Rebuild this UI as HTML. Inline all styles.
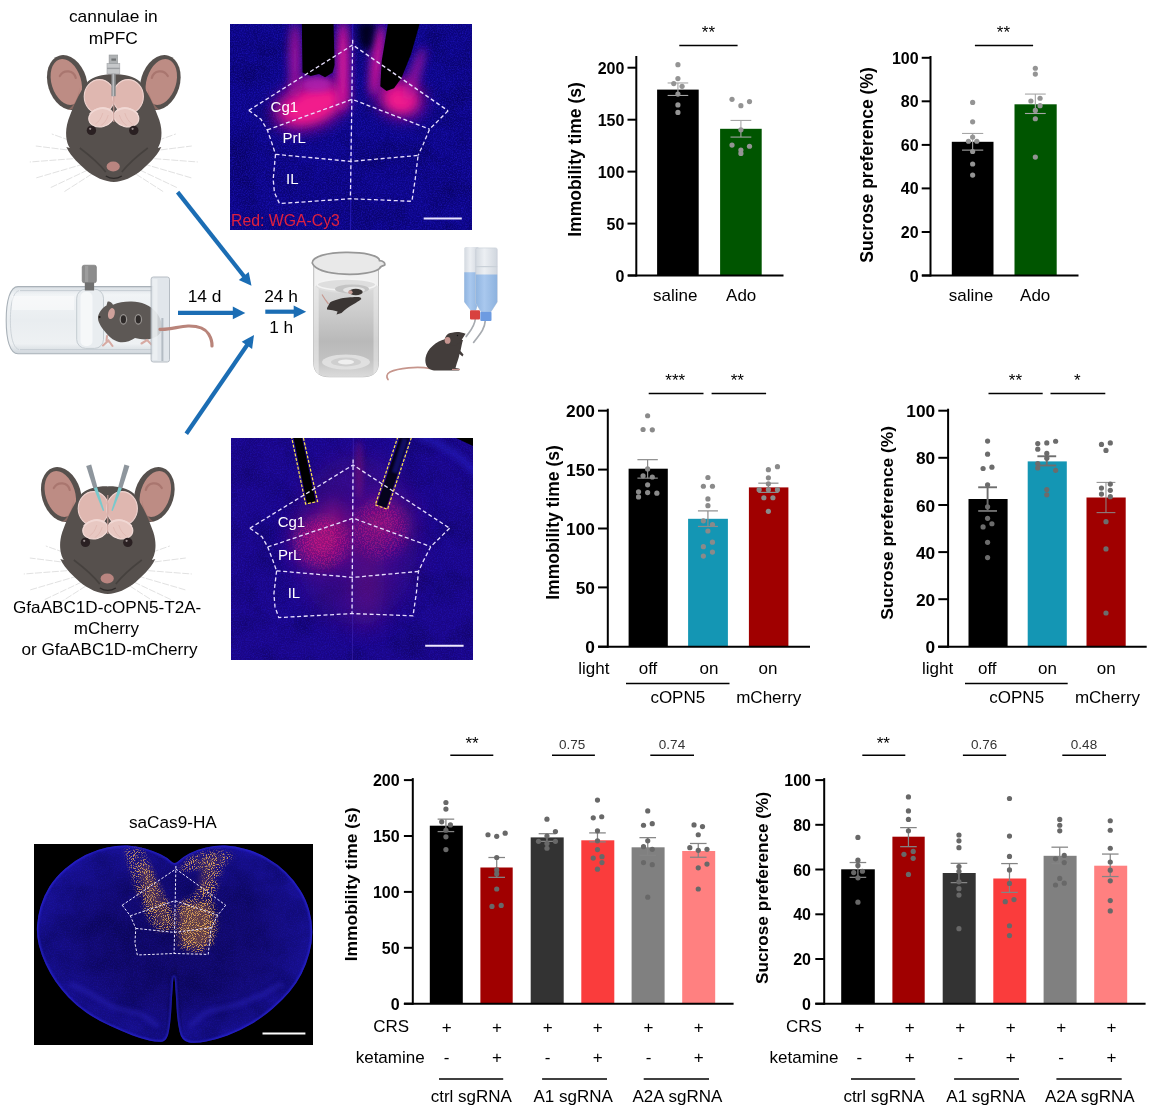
<!DOCTYPE html>
<html lang="en"><head><meta charset="utf-8"><title>Figure</title>
<style>html,body{margin:0;padding:0;background:#fff}body{width:1172px;height:1117px;overflow:hidden;font-family:"Liberation Sans",Arial,sans-serif}svg{display:block}</style>
</head><body>
<svg width="1172" height="1117" viewBox="0 0 1172 1117" font-family="Liberation Sans, Arial, sans-serif">
<defs>
<filter id="nzb" x="0" y="0" width="100%" height="100%" color-interpolation-filters="sRGB">
  <feTurbulence type="fractalNoise" baseFrequency="0.75" numOctaves="2" seed="7"/>
  <feColorMatrix type="matrix" values="0 0 0 0 0.18  0 0 0 0 0.12  0 0 0 0 0.95  0 0 2.2 0 -0.85"/>
</filter>
<filter id="nzd" x="0" y="0" width="100%" height="100%" color-interpolation-filters="sRGB">
  <feTurbulence type="fractalNoise" baseFrequency="0.035" numOctaves="3" seed="11"/>
  <feColorMatrix type="matrix" values="0 0 0 0 0.01  0 0 0 0 0  0 0 0 0 0.2  0 1.5 0 0 -0.6"/>
</filter>
<filter id="b2" x="-300%" y="-300%" width="700%" height="700%"><feGaussianBlur stdDeviation="2"/></filter>
<filter id="b3" x="-300%" y="-300%" width="700%" height="700%"><feGaussianBlur stdDeviation="3.2"/></filter>
<filter id="b5" x="-300%" y="-300%" width="700%" height="700%"><feGaussianBlur stdDeviation="5"/></filter>
<filter id="b8" x="-300%" y="-300%" width="700%" height="700%"><feGaussianBlur stdDeviation="8"/></filter>
<filter id="b12" x="-300%" y="-300%" width="700%" height="700%"><feGaussianBlur stdDeviation="12"/></filter>
<filter id="b05" x="-10%" y="-10%" width="120%" height="120%"><feGaussianBlur stdDeviation="0.5"/></filter>
<filter id="b1" x="-10%" y="-10%" width="120%" height="120%"><feGaussianBlur stdDeviation="0.8"/></filter>
<filter id="spk" x="-10%" y="-10%" width="120%" height="120%" color-interpolation-filters="sRGB">
  <feTurbulence type="fractalNoise" baseFrequency="0.95" numOctaves="2" seed="5" result="n"/>
  <feColorMatrix in="n" type="matrix" values="0 0 0 0 0.92  0 0 0 0 0.68  0 0 0 0 0.34  0 0 0 7 -3.55" result="m"/>
  <feGaussianBlur in="SourceGraphic" stdDeviation="2.2" result="b"/>
  <feComposite in="m" in2="b" operator="in"/>
</filter>
<filter id="spkm" x="-10%" y="-10%" width="120%" height="120%" color-interpolation-filters="sRGB">
  <feTurbulence type="fractalNoise" baseFrequency="0.7" numOctaves="2" seed="9" result="n"/>
  <feColorMatrix in="n" type="matrix" values="0 0 0 0 1  0 0 0 0 0.1  0 0 0 0 0.55  0 0 0 5 -2.2" result="m"/>
  <feGaussianBlur in="SourceGraphic" stdDeviation="5" result="b"/>
  <feComposite in="m" in2="b" operator="in"/>
</filter>
<clipPath id="c1"><rect x="230" y="24" width="242" height="206"/></clipPath>
<clipPath id="c2"><rect x="231" y="438" width="242" height="222"/></clipPath>
<clipPath id="c3"><rect x="34" y="844" width="279" height="201"/></clipPath>
<radialGradient id="brg" cx="0.5" cy="0.48" r="0.56">
  <stop offset="0" stop-color="#0f0860"/><stop offset="0.55" stop-color="#120a70"/><stop offset="0.9" stop-color="#17108e"/><stop offset="1" stop-color="#1c14a4"/>
</radialGradient>

<linearGradient id="tubeg" x1="0" y1="0" x2="0" y2="1">
  <stop offset="0" stop-color="#d9dfe4"/><stop offset="0.12" stop-color="#f1f4f6"/><stop offset="0.5" stop-color="#e9edf0"/>
  <stop offset="0.85" stop-color="#eef1f3"/><stop offset="1" stop-color="#cfd6dc"/>
</linearGradient>
<linearGradient id="watg" x1="0" y1="0" x2="0" y2="1">
  <stop offset="0" stop-color="#dadada"/><stop offset="0.25" stop-color="#cecece"/><stop offset="0.6" stop-color="#b9b9b9"/><stop offset="0.8" stop-color="#c2c2c2"/><stop offset="1" stop-color="#dcdcdc"/>
</linearGradient>
<linearGradient id="glassg" x1="0" y1="0" x2="1" y2="0">
  <stop offset="0" stop-color="#c9c9c9"/><stop offset="0.12" stop-color="#f4f4f4"/><stop offset="0.85" stop-color="#f0f0f0"/><stop offset="1" stop-color="#c4c4c4"/>
</linearGradient>
<linearGradient id="botg" x1="0" y1="0" x2="1" y2="0">
  <stop offset="0" stop-color="#8fb4e0"/><stop offset="0.4" stop-color="#a9c8ee"/><stop offset="1" stop-color="#8db2de"/>
</linearGradient>
<linearGradient id="bote" x1="0" y1="0" x2="1" y2="0">
  <stop offset="0" stop-color="#d3d9e0"/><stop offset="0.4" stop-color="#eceff3"/><stop offset="1" stop-color="#d0d6de"/>
</linearGradient>
</defs>
<rect width="1172" height="1117" fill="#fff"/>
<g id="art"><text x="113.30" y="22.40" font-size="17.35" text-anchor="middle" fill="#000">cannulae in</text>
<text x="113.30" y="43.90" font-size="17.35" text-anchor="middle" fill="#000">mPFC</text>
<g transform="translate(113.8 84.0)">
<g stroke="#d2d2d2" stroke-width="0.9" fill="none" opacity="0.75" stroke-dasharray="7 1.5"><path d="M28 62 L62 50 M-28 62 L-62 50"/><path d="M30 68 L78 62 M-30 68 L-78 62"/><path d="M32 74 L84 78 M-32 74 L-84 78"/><path d="M30 80 L78 94 M-30 80 L-78 94"/><path d="M26 86 L64 104 M-26 86 L-64 104"/><path d="M22 90 L50 108 M-22 90 L-50 108"/></g>
<g transform="scale(-1 1)">
<ellipse cx="46.5" cy="-1.5" rx="19.5" ry="28" transform="rotate(17 46.5 -1.5)" fill="#56504d"/>
<ellipse cx="47.5" cy="-2" rx="14.8" ry="23.5" transform="rotate(17 47.5 -2)" fill="#bd8c84"/>
<path d="M38 -6 C40 -14 50 -15 54 -8" fill="none" stroke="#a9766f" stroke-width="2.2" stroke-linecap="round"/>
<path d="M34 4 C36 14 40 22 46 26 L36 24 Z" fill="#a87870" opacity="0.6"/>
</g>
<g transform="scale(1 1)">
<ellipse cx="46.5" cy="-1.5" rx="19.5" ry="28" transform="rotate(17 46.5 -1.5)" fill="#56504d"/>
<ellipse cx="47.5" cy="-2" rx="14.8" ry="23.5" transform="rotate(17 47.5 -2)" fill="#bd8c84"/>
<path d="M38 -6 C40 -14 50 -15 54 -8" fill="none" stroke="#a9766f" stroke-width="2.2" stroke-linecap="round"/>
<path d="M34 4 C36 14 40 22 46 26 L36 24 Z" fill="#a87870" opacity="0.6"/>
</g>
<path d="M0 -9.6 C-10 -9.9 -20 -7.5 -26 -2.5 C-34 7 -40 21 -45.5 36 C-49.5 48 -47.5 59 -44 64 L-47.5 63 C-42 74 -34 80 -28 86 C-20 93 -8 98 0 98 C8 98 20 93 28 86 C34 80 42 74 47.5 63 L44 64 C47.5 59 49.5 48 45.5 36 C40 21 34 7 26 -2.5 C20 -7.5 10 -9.9 0 -9.6 Z" fill="#56504d"/>
<path d="M-34 64 C-26 70 -16 78 -8 88 M34 64 C26 70 16 78 8 88" stroke="#3f3a38" stroke-width="1.6" fill="none" opacity="0.7"/>
<path d="M-8 92 C-3 95 3 95 8 92" stroke="#2e2a29" stroke-width="1.4" fill="none"/>
<g transform="scale(-1 1)">
<ellipse cx="14.3" cy="12.6" rx="15.3" ry="17" fill="#dfb7b0" stroke="#efd3cf" stroke-width="1.1"/>
</g>
<g transform="scale(1 1)">
<ellipse cx="14.3" cy="12.6" rx="15.3" ry="17" fill="#dfb7b0" stroke="#efd3cf" stroke-width="1.1"/>
</g>
<g transform="scale(-1 1)">
<ellipse cx="12.6" cy="33.4" rx="12.6" ry="9.4" transform="rotate(14 12.6 33.4)" fill="#e8c8c2" stroke="#f3dcd8" stroke-width="1.1"/>
<path d="M3 27 C9 22 18 24 24 30" stroke="#f1d8d4" stroke-width="1.6" fill="none"/>
<path d="M5.5 31 C7 36 10 40 13 41.5 M11 29 C12.5 34 15 38 18.5 40" stroke="#dcb2ac" stroke-width="0.8" fill="none" opacity="0.8"/>
</g>
<g transform="scale(1 1)">
<ellipse cx="12.6" cy="33.4" rx="12.6" ry="9.4" transform="rotate(14 12.6 33.4)" fill="#e8c8c2" stroke="#f3dcd8" stroke-width="1.1"/>
<path d="M3 27 C9 22 18 24 24 30" stroke="#f1d8d4" stroke-width="1.6" fill="none"/>
<path d="M5.5 31 C7 36 10 40 13 41.5 M11 29 C12.5 34 15 38 18.5 40" stroke="#dcb2ac" stroke-width="0.8" fill="none" opacity="0.8"/>
</g>
<path d="M0 -1 L0 38" stroke="#cfa39d" stroke-width="1"/>
<circle cx="-22.40" cy="46.40" r="4.70" fill="#2a2022"/>
<circle cx="-23.60" cy="44.80" r="1.10" fill="#9a8f8f"/>
<circle cx="20.00" cy="46.40" r="4.70" fill="#2a2022"/>
<circle cx="18.80" cy="44.80" r="1.10" fill="#9a8f8f"/>
<ellipse cx="-0.6" cy="82.5" rx="6.6" ry="5" fill="#b98580"/>
<rect x="-2.40" y="-11.00" width="4.30" height="23.20" fill="#8b8d8f"/>
<rect x="-1.20" y="-11.00" width="1.30" height="23.20" fill="#c2c4c6"/>
<rect x="-6.80" y="-20.60" width="12.80" height="10.40" fill="#c6c8ca" stroke="#a2a5a8" stroke-width="0.6"/>
<rect x="-6.80" y="-16.30" width="12.80" height="1.40" fill="#9b9ea1"/>
<rect x="-4.70" y="-29.00" width="8.60" height="8.60" fill="#aeb1b3" stroke="#96999c" stroke-width="0.6"/>
<rect x="-2.40" y="-25.50" width="4.60" height="2.20" fill="#6f7274"/>
</g>
<g transform="translate(107.8 496.0)">
<g stroke="#d2d2d2" stroke-width="0.9" fill="none" opacity="0.75" stroke-dasharray="7 1.5"><path d="M28 62 L62 50 M-28 62 L-62 50"/><path d="M30 68 L78 62 M-30 68 L-78 62"/><path d="M32 74 L84 78 M-32 74 L-84 78"/><path d="M30 80 L78 94 M-30 80 L-78 94"/><path d="M26 86 L64 104 M-26 86 L-64 104"/><path d="M22 90 L50 108 M-22 90 L-50 108"/></g>
<g transform="scale(-1 1)">
<ellipse cx="46.5" cy="-1.5" rx="19.5" ry="28" transform="rotate(17 46.5 -1.5)" fill="#56504d"/>
<ellipse cx="47.5" cy="-2" rx="14.8" ry="23.5" transform="rotate(17 47.5 -2)" fill="#bd8c84"/>
<path d="M38 -6 C40 -14 50 -15 54 -8" fill="none" stroke="#a9766f" stroke-width="2.2" stroke-linecap="round"/>
<path d="M34 4 C36 14 40 22 46 26 L36 24 Z" fill="#a87870" opacity="0.6"/>
</g>
<g transform="scale(1 1)">
<ellipse cx="46.5" cy="-1.5" rx="19.5" ry="28" transform="rotate(17 46.5 -1.5)" fill="#56504d"/>
<ellipse cx="47.5" cy="-2" rx="14.8" ry="23.5" transform="rotate(17 47.5 -2)" fill="#bd8c84"/>
<path d="M38 -6 C40 -14 50 -15 54 -8" fill="none" stroke="#a9766f" stroke-width="2.2" stroke-linecap="round"/>
<path d="M34 4 C36 14 40 22 46 26 L36 24 Z" fill="#a87870" opacity="0.6"/>
</g>
<path d="M0 -9.6 C-10 -9.9 -20 -7.5 -26 -2.5 C-34 7 -40 21 -45.5 36 C-49.5 48 -47.5 59 -44 64 L-47.5 63 C-42 74 -34 80 -28 86 C-20 93 -8 98 0 98 C8 98 20 93 28 86 C34 80 42 74 47.5 63 L44 64 C47.5 59 49.5 48 45.5 36 C40 21 34 7 26 -2.5 C20 -7.5 10 -9.9 0 -9.6 Z" fill="#56504d"/>
<path d="M-34 64 C-26 70 -16 78 -8 88 M34 64 C26 70 16 78 8 88" stroke="#3f3a38" stroke-width="1.6" fill="none" opacity="0.7"/>
<path d="M-8 92 C-3 95 3 95 8 92" stroke="#2e2a29" stroke-width="1.4" fill="none"/>
<g transform="scale(-1 1)">
<ellipse cx="14.3" cy="12.6" rx="15.3" ry="17" fill="#dfb7b0" stroke="#efd3cf" stroke-width="1.1"/>
</g>
<g transform="scale(1 1)">
<ellipse cx="14.3" cy="12.6" rx="15.3" ry="17" fill="#dfb7b0" stroke="#efd3cf" stroke-width="1.1"/>
</g>
<g transform="scale(-1 1)">
<ellipse cx="12.6" cy="33.4" rx="12.6" ry="9.4" transform="rotate(14 12.6 33.4)" fill="#e8c8c2" stroke="#f3dcd8" stroke-width="1.1"/>
<path d="M3 27 C9 22 18 24 24 30" stroke="#f1d8d4" stroke-width="1.6" fill="none"/>
<path d="M5.5 31 C7 36 10 40 13 41.5 M11 29 C12.5 34 15 38 18.5 40" stroke="#dcb2ac" stroke-width="0.8" fill="none" opacity="0.8"/>
</g>
<g transform="scale(1 1)">
<ellipse cx="12.6" cy="33.4" rx="12.6" ry="9.4" transform="rotate(14 12.6 33.4)" fill="#e8c8c2" stroke="#f3dcd8" stroke-width="1.1"/>
<path d="M3 27 C9 22 18 24 24 30" stroke="#f1d8d4" stroke-width="1.6" fill="none"/>
<path d="M5.5 31 C7 36 10 40 13 41.5 M11 29 C12.5 34 15 38 18.5 40" stroke="#dcb2ac" stroke-width="0.8" fill="none" opacity="0.8"/>
</g>
<path d="M0 -1 L0 38" stroke="#cfa39d" stroke-width="1"/>
<circle cx="-22.40" cy="46.40" r="4.70" fill="#2a2022"/>
<circle cx="-23.60" cy="44.80" r="1.10" fill="#9a8f8f"/>
<circle cx="20.00" cy="46.40" r="4.70" fill="#2a2022"/>
<circle cx="18.80" cy="44.80" r="1.10" fill="#9a8f8f"/>
<ellipse cx="-0.6" cy="82.5" rx="6.6" ry="5" fill="#b98580"/>
<g transform="scale(-1 1)">
<polygon points="16.6,-31.5 21.6,-30 14.4,-7.6 10.4,-9" fill="#8e969d"/>
<polygon points="10.8,-9 14,-7.8 4.9,15 3.6,14.4" fill="#79c9cc"/>
</g>
<g transform="scale(1 1)">
<polygon points="16.6,-31.5 21.6,-30 14.4,-7.6 10.4,-9" fill="#8e969d"/>
<polygon points="10.8,-9 14,-7.8 4.9,15 3.6,14.4" fill="#79c9cc"/>
</g>
</g>
<text x="107.20" y="612.50" font-size="17.12" text-anchor="middle" fill="#000">GfaABC1D-cOPN5-T2A-</text>
<text x="106.40" y="634.10" font-size="17.00" text-anchor="middle" fill="#000">mCherry</text>
<text x="109.50" y="654.80" font-size="17.15" text-anchor="middle" fill="#000">or GfaABC1D-mCherry</text>
<path d="M18 286.6 L153 286.6 L153 353.8 L18 353.8 C10 353.8 6.2 340 6.2 320.2 C6.2 301 10 286.6 18 286.6 Z" fill="url(#tubeg)" stroke="#a9b1b8" stroke-width="1.1"/>
<path d="M20 290.6 L152 290.6 M20 349.6 L152 349.6" stroke="#c3cad0" stroke-width="0.9" fill="none"/>
<path d="M19 290.6 C13 292 10.4 304 10.4 320.2 C10.4 336 13 348 19 349.6" fill="none" stroke="#c9d0d6" stroke-width="0.9"/>
<rect x="12.00" y="296.00" width="62.00" height="14.00" fill="#ffffff" opacity="0.45"/>
<rect x="76.70" y="289.20" width="26.80" height="59.20" fill="#e9edf0" rx="9" stroke="#c0c7cd" stroke-width="0.9"/>
<rect x="80.50" y="292.00" width="12.00" height="54.00" fill="#f6f8f9" rx="5"/>
<rect x="84.80" y="281.50" width="9.30" height="9.00" fill="#6f6f6f"/>
<rect x="82.20" y="265.20" width="14.20" height="17.60" fill="#8c8c8c" rx="2" stroke="#747474" stroke-width="0.6"/>
<rect x="85.00" y="266.00" width="3.20" height="16.00" fill="#a4a4a4" opacity="0.7"/>
<path d="M98 316.8 C99 312 103 307 106.5 305.5 L107.5 301.8 C109.5 301 112 302.5 113 304.8 C118 302.5 124 301.6 130 301.5 C140 301 150 305 156 312 C160 317 162.5 323 161.8 329 C161 334 157 337 152 338.5 C146 340.5 140 339 135 338 C130 341.5 124 343 119 342 C113 340.5 108 336 104.5 331 C101 327 97.5 321.5 98 316.8 Z" fill="#5d5855"/>
<ellipse cx="111.4" cy="313.6" rx="3.3" ry="5.6" fill="#cfa19b" transform="rotate(14 111.4 313.6)"/>
<circle cx="99.60" cy="317.00" r="1.00" fill="#1e1a1a"/>
<path d="M103 345.5 L108.5 340.5 L112.5 346 M106.5 341 L107 336 M141.5 343.5 L147 340 L151.5 344.5" stroke="#d7aaa3" stroke-width="2.1" fill="none" stroke-linecap="round"/>
<ellipse cx="123.4" cy="319.4" rx="3.2" ry="4.7" fill="#2f2b2a" stroke="#9a9693" stroke-width="1.2"/>
<ellipse cx="138.3" cy="319.4" rx="3.2" ry="4.7" fill="#2f2b2a" stroke="#9a9693" stroke-width="1.2"/>
<rect x="151.10" y="277.00" width="18.40" height="85.00" fill="#dde3e8" rx="2.2" stroke="#aab2ba" stroke-width="1" opacity="0.86"/>
<rect x="161.40" y="318.00" width="2.00" height="43.00" fill="#b4bcc4"/>
<rect x="152.50" y="279.00" width="5.00" height="81.00" fill="#f2f5f7" opacity="0.6"/>
<path d="M160 329.3 C170 330 179 326.2 188 326 C197 325.8 205 328 208.6 334 C211 338 212.2 342 212 346" fill="none" stroke="#b9847a" stroke-width="3.2" stroke-linecap="round"/>
<text x="204.60" y="302.10" font-size="17.35" text-anchor="middle" fill="#000">14 d</text>
<text x="281.10" y="302.10" font-size="17.35" text-anchor="middle" fill="#000">24 h</text>
<text x="281.20" y="332.50" font-size="17.35" text-anchor="middle" fill="#000">1 h</text>
<line x1="177.60" y1="192.10" x2="244.38" y2="276.77" stroke="#1b6db4" stroke-width="4.20"/><polygon points="251.5,285.8 238.8,279.9 248.7,272.1" fill="#1b6db4"/>
<line x1="178.00" y1="312.90" x2="233.80" y2="312.90" stroke="#1b6db4" stroke-width="4.20"/><polygon points="245.3,312.9 232.8,319.2 232.8,306.6" fill="#1b6db4"/>
<line x1="186.30" y1="433.80" x2="247.50" y2="344.49" stroke="#1b6db4" stroke-width="4.20"/><polygon points="254.0,335.0 252.1,348.9 241.7,341.8" fill="#1b6db4"/>
<line x1="265.30" y1="311.70" x2="294.70" y2="311.70" stroke="#1b6db4" stroke-width="4.20"/><polygon points="306.2,311.7 293.7,318.0 293.7,305.4" fill="#1b6db4"/>
<path d="M313.7 263.5 L313.7 362.8 C313.7 372.8 319.7 376.8 329.7 376.8 L362.5 376.8 C372.5 376.8 378.5 372.8 378.5 362.8 L378.5 263.5 Z" fill="#f1f1f1" stroke="#b5b5b5" stroke-width="0.9"/>
<clipPath id="bkc"><path d="M313.7 263.5 L313.7 362.8 C313.7 372.8 319.7 376.8 329.7 376.8 L362.5 376.8 C372.5 376.8 378.5 372.8 378.5 362.8 L378.5 263.5 Z"/></clipPath>
<g clip-path="url(#bkc)">
<rect x="313.70" y="286.00" width="64.80" height="92.00" fill="url(#watg)"/>
<rect x="313.70" y="286.00" width="5.00" height="92.00" fill="#f2f2f2" opacity="0.55"/>
<rect x="373.50" y="286.00" width="5.00" height="92.00" fill="#f2f2f2" opacity="0.45"/>
<ellipse cx="346" cy="362" rx="24" ry="7.5" fill="#e2e2e2" opacity="0.9"/>
<ellipse cx="346" cy="362" rx="15" ry="4.4" fill="#cfcfcf"/>
<ellipse cx="346" cy="362" rx="8" ry="2.4" fill="#efefef"/>
</g>
<ellipse cx="346.5" cy="286" rx="30.5" ry="7" fill="#dedede"/>
<ellipse cx="346.5" cy="284.6" rx="29.5" ry="5.6" fill="none" stroke="#f3f3f3" stroke-width="1.6"/>
<ellipse cx="352" cy="289" rx="17" ry="4.6" fill="#c4c4c4"/>
<ellipse cx="354" cy="290" rx="11" ry="3.2" fill="#e4e4e4"/>
<path d="M322 294.5 C324 298 326 301 328.5 304" fill="none" stroke="#c79a92" stroke-width="1.2"/>
<path d="M327 308 L330 302.6 C334 300 342 298 348 297.6 C353 297.2 358 296.6 360.5 297.6 L361.4 299 C359 301 356 302.8 353 304.4 C349 306.6 345 309 341.5 313 L336.5 314.6 L337.6 311.4 L332.6 310.2 L327 309.6 Z" fill="#3a3533"/>
<ellipse cx="355.8" cy="292" rx="6.9" ry="3.2" fill="#3a3533"/>
<ellipse cx="350.4" cy="292.2" rx="2.2" ry="1.9" fill="#c9a099"/>
<path d="M312.2 263 C312.2 249 379 249.5 379.6 260.6 C383 260.6 385.6 263 384.6 265.2 C382 265.8 380.2 266.8 379.4 268.6 C370 276.6 318 277.4 312.2 263 Z" fill="#e9e9e9" stroke="#979797" stroke-width="1.7"/>
<path d="M464.3 248.5 Q464.3 246.9 466 246.9 L477 246.9 Q478.9 246.9 478.9 248.5 L478.9 300 L476 310.2 L470.5 310.2 L464.3 302 Z" fill="url(#bote)"/>
<path d="M464.3 272.3 L478.9 272.3 L478.9 300 L476 310.2 L470.5 310.2 L464.3 302 Z" fill="url(#botg)"/>
<path d="M475.7 249.5 Q475.7 247.9 477.5 247.9 L495.4 247.9 Q497.2 247.9 497.2 249.5 L497.2 302 L491 311.7 L481 311.7 L475.7 303 Z" fill="url(#bote)" stroke="#c3cad3" stroke-width="0.6"/>
<path d="M475.7 274.4 L497.2 274.4 L497.2 302 L491 311.7 L481 311.7 L475.7 303 Z" fill="url(#botg)"/>
<rect x="475.70" y="266.00" width="21.50" height="1.20" fill="#c9d0d8"/>
<path d="M475.3 319 C474.5 327 470 331 466.2 336.6" fill="none" stroke="#a7abb0" stroke-width="1.7" stroke-linecap="round"/>
<path d="M485.3 320.5 C484.5 331 478 336 473.6 342.4" fill="none" stroke="#a7abb0" stroke-width="1.7" stroke-linecap="round"/>
<rect x="470.00" y="310.20" width="10.00" height="9.30" fill="#d8413f" rx="1"/>
<rect x="480.30" y="311.70" width="11.20" height="9.30" fill="#6d9be1" rx="1"/>
<path d="M430 368.5 C418 366 398 368 390 372 C386 374 386.5 377.5 388 379.5" fill="none" stroke="#c6958c" stroke-width="1.7" stroke-linecap="round"/>
<path d="M446 339 C436 341 427 349 425.5 358 C424.5 365 428 370 434 370.5 L458 370.5 C460 370.5 460.5 369 458.5 368.5 L455.5 368 C457 362 459 358 459.5 354 L462.5 356.5 L463.5 354.5 L460.5 351 C461.5 346 462 343 463 340 Z" fill="#433d3b"/>
<path d="M444.5 343 C444 337 447 333 452 332.8 C456 331.5 461 332 465.6 333.8 L462.5 338.5 C461 342 458 345 453 346 Z" fill="#433d3b"/>
<ellipse cx="447.6" cy="340.4" rx="2.9" ry="3.4" fill="#c69590"/>
<circle cx="457.50" cy="335.50" r="0.70" fill="#111"/>
<path d="M452 369.5 L460 369.5" stroke="#c69590" stroke-width="1.2"/></g>
<g id="m1"><g clip-path="url(#c1)">
<rect x="230.00" y="24.00" width="242.00" height="206.00" fill="#0c0582"/>
<rect x="230.00" y="24.00" width="242.00" height="206.00" fill="#000" filter="url(#nzd)" opacity="0.5"/>
<rect x="230.00" y="24.00" width="242.00" height="206.00" fill="#000" filter="url(#nzb)" opacity="0.4"/>
<ellipse cx="310" cy="105" rx="37" ry="22" transform="rotate(-20 310 105)" fill="#d8108c" filter="url(#b8)"/>
<ellipse cx="312" cy="106" rx="26" ry="13" transform="rotate(-20 312 106)" fill="#f21a8c" filter="url(#b5)"/>
<ellipse cx="316" cy="84" rx="16" ry="8" fill="#b020b0" filter="url(#b3)" opacity="0.8"/>
<ellipse cx="295" cy="60" rx="5.5" ry="38" fill="#b018a0" filter="url(#b5)" opacity="0.95"/>
<ellipse cx="343" cy="66" rx="6.5" ry="46" fill="#dc189a" filter="url(#b5)"/>
<ellipse cx="400" cy="98" rx="23" ry="18" transform="rotate(25 400 98)" fill="#d8108c" filter="url(#b8)"/>
<ellipse cx="401" cy="100" rx="13" ry="10" fill="#f21a8c" filter="url(#b5)"/>
<ellipse cx="377" cy="60" rx="5.5" ry="36" transform="rotate(7 377 60)" fill="#dc189a" filter="url(#b5)"/>
<ellipse cx="415" cy="74" rx="4.5" ry="28" transform="rotate(18 415 74)" fill="#b018a0" filter="url(#b5)" opacity="0.9"/>
<polygon points="358.5,22.7 375.6,22.7 371.5,45.9 364.6,51.4 359.2,40.5" fill="#03011c" filter="url(#b3)" opacity="0.95"/>
<polygon points="301.8,22.7 333.5,22.7 334.6,65.1 332.6,72.6 325.1,77.3 318.9,73.9 310.7,76.0 302.5,72.6" fill="#000" filter="url(#b05)"/>
<polygon points="388.1,22.7 419.9,22.7 411.1,54.1 401.5,78.0 394.0,88.3 386.5,91.0 380.3,86.2 381.7,61.0" fill="#000" filter="url(#b05)"/>
<line x1="352.66" y1="24.00" x2="350.44" y2="230.00" stroke="#2e22c8" stroke-width="1.20" opacity="0.6"/>
<path d="M248.8 110.4 L352.7 44.9 L448.1 110.8" fill="none" stroke="#e8e0ff" stroke-width="1.30" stroke-dasharray="4 2.6"/>
<path d="M267.3 129.9 L352.2 99.3 L429.6 129.2" fill="none" stroke="#e8e0ff" stroke-width="1.30" stroke-dasharray="4 2.6"/>
<path d="M275.5 154.3 L350.9 161.4 L418.1 155.4" fill="none" stroke="#e8e0ff" stroke-width="1.30" stroke-dasharray="4 2.6"/>
<path d="M352.7 39.8 L350.4 198.7" fill="none" stroke="#e8e0ff" stroke-width="1.30" stroke-dasharray="4 2.6"/>
<path d="M248.8 110.4 L261.0 119.3 L267.3 129.9 L272.1 143.7 L275.5 154.3" fill="none" stroke="#e8e0ff" stroke-width="1.30" stroke-dasharray="4 2.6"/>
<path d="M448.1 110.8 L429.6 129.2 L423.0 144.8 L418.1 155.4" fill="none" stroke="#e8e0ff" stroke-width="1.30" stroke-dasharray="4 2.6"/>
<path d="M275.5 154.3 L273.2 179.2 L274.4 192.5 L279.5 203.6 L350.4 198.7 L411.9 201.3 L415.2 179.2 L418.1 155.4" fill="none" stroke="#e8e0ff" stroke-width="1.30" stroke-dasharray="4 2.6"/>
<text x="270.58" y="112.17" font-size="15.00" text-anchor="start" fill="#fff">Cg1</text>
<text x="282.56" y="143.23" font-size="15.00" text-anchor="start" fill="#fff">PrL</text>
<text x="286.11" y="184.04" font-size="15.00" text-anchor="start" fill="#fff">IL</text>
<text x="231.00" y="225.80" font-size="15.80" text-anchor="start" fill="#e0203f">Red: WGA-Cy3</text>
<line x1="423.70" y1="218.40" x2="461.80" y2="218.40" stroke="#e8e4ff" stroke-width="2.00"/>
</g></g>
<g id="m2"><g clip-path="url(#c2)">
<rect x="231.00" y="438.00" width="242.00" height="222.00" fill="#1a0686"/>
<rect x="231.00" y="438.00" width="242.00" height="222.00" fill="#000" filter="url(#nzd)" opacity="0.4"/>
<rect x="231.00" y="438.00" width="242.00" height="222.00" fill="#000" filter="url(#nzb)" opacity="0.3"/>
<ellipse cx="356" cy="540" rx="62" ry="85" fill="#5a0a84" filter="url(#b12)" opacity="0.4"/>
<path d="M418 436 C440 442 462 456 478 476" fill="none" stroke="#2a22d0" stroke-width="7" filter="url(#b3)" opacity="0.55"/>
<ellipse cx="322" cy="541" rx="24" ry="22" fill="#c01878" filter="url(#b12)" opacity="0.8"/>
<ellipse cx="334" cy="520" rx="12" ry="20" fill="#a8187c" filter="url(#b8)" opacity="0.45"/>
<ellipse cx="382" cy="523" rx="24" ry="20" fill="#b01878" filter="url(#b12)" opacity="0.65"/>
<ellipse cx="367" cy="570" rx="10" ry="60" fill="#8a1478" filter="url(#b12)" opacity="0.5"/>
<ellipse cx="359" cy="470" rx="3" ry="30" fill="#b01868" filter="url(#b3)" opacity="0.45"/>
<ellipse cx="322" cy="543" rx="28" ry="25" fill="#ff4fa0" filter="url(#spkm)" opacity="0.38"/>
<ellipse cx="380" cy="530" rx="28" ry="30" fill="#ff4fa0" filter="url(#spkm)" opacity="0.3"/>
<polygon points="456,438 473,438 473,446" fill="#000" filter="url(#b05)"/>
<polygon points="293.2,436.1 301.6,436.1 315.8,501.5 307.0,503.5" fill="#000"/>
<polygon points="400.6,435.0 409.7,437.2 386.4,508.0 377.1,504.4" fill="#05031c"/>
<polygon points="402.4,438.3 408.1,439.6 397.5,473.8 391.9,472.0" fill="#1a12a0" opacity="0.55" filter="url(#b1)"/>
<polygon points="291.4,436.1 303.0,436.1 317.6,501.5 305.6,504.0" fill="none" stroke="#ffe84a" stroke-width="1.2" stroke-dasharray="3 1.5"/>
<polygon points="398.8,433.9 411.5,437.2 387.5,509.3 375.3,504.9" fill="none" stroke="#ffe84a" stroke-width="1.2" stroke-dasharray="3 1.5"/>
<line x1="353.33" y1="438.00" x2="352.44" y2="660.00" stroke="#4a30c8" stroke-width="1.10" opacity="0.4"/>
<path d="M249.9 528.2 L353.1 464.9 L449.6 528.2" fill="none" stroke="#e8e0ff" stroke-width="1.30" stroke-dasharray="4 2.6"/>
<path d="M267.7 547.0 L353.1 518.2 L430.8 546.6" fill="none" stroke="#e8e0ff" stroke-width="1.30" stroke-dasharray="4 2.6"/>
<path d="M276.6 570.8 L353.1 577.4 L418.5 571.4" fill="none" stroke="#e8e0ff" stroke-width="1.30" stroke-dasharray="4 2.6"/>
<path d="M353.1 459.4 L352.0 613.6" fill="none" stroke="#e8e0ff" stroke-width="1.30" stroke-dasharray="4 2.6"/>
<path d="M249.9 528.2 L262.2 537.0 L267.7 547.0 L272.8 560.3 L276.6 570.8" fill="none" stroke="#e8e0ff" stroke-width="1.30" stroke-dasharray="4 2.6"/>
<path d="M449.6 528.2 L430.8 546.6 L423.7 560.3 L418.5 571.4" fill="none" stroke="#e8e0ff" stroke-width="1.30" stroke-dasharray="4 2.6"/>
<path d="M276.6 570.8 L273.9 593.6 L275.0 606.9 L278.8 617.6 L352.0 613.6 L413.0 615.8 L416.3 593.6 L418.5 571.4" fill="none" stroke="#e8e0ff" stroke-width="1.30" stroke-dasharray="4 2.6"/>
<text x="277.68" y="527.49" font-size="15.00" text-anchor="start" fill="#fff">Cg1</text>
<text x="278.12" y="560.32" font-size="15.00" text-anchor="start" fill="#fff">PrL</text>
<text x="287.66" y="598.48" font-size="15.00" text-anchor="start" fill="#fff">IL</text>
<line x1="425.20" y1="645.70" x2="463.60" y2="645.70" stroke="#efeaff" stroke-width="2.00"/>
</g></g>
<g id="m3"><text x="172.90" y="828.30" font-size="17.20" text-anchor="middle" fill="#000">saCas9-HA</text>
<g clip-path="url(#c3)">
<rect x="34.00" y="844.00" width="279.00" height="201.00" fill="#000"/>
<clipPath id="c3b"><path d="M171.4 861.4 Q167.8 857.9 160.6 854.3 Q153.5 850.8 145.1 848.4 Q136.7 846.0 127.2 845.6 Q117.6 845.3 106.9 847.4 Q96.1 849.6 85.4 854.9 Q74.6 860.3 65.1 868.7 Q55.5 877.0 49.5 886.6 Q43.6 896.1 40.6 906.3 Q37.6 916.5 37.0 926.0 Q36.4 935.6 38.8 945.1 Q41.2 954.7 45.7 964.2 Q50.2 973.8 55.5 981.6 Q60.8 989.3 68.3 997.3 Q75.8 1005.3 86.2 1012.5 Q96.6 1019.7 109.5 1025.6 Q122.4 1031.6 132.0 1035.2 Q141.5 1038.8 150.1 1040.7 Q158.7 1042.6 163.0 1041.4 Q167.3 1040.2 169.0 1030.9 Q170.7 1021.6 171.4 1008.4 Q172.1 995.3 173.0 982.7 Q174.0 970.2 175.0 982.7 Q175.9 995.3 176.6 1008.4 Q177.3 1021.6 179.5 1031.4 Q181.6 1041.2 189.1 1042.4 Q196.5 1043.5 206.0 1041.6 Q215.6 1039.7 227.5 1035.4 Q239.5 1031.1 251.4 1024.0 Q263.4 1016.8 272.9 1008.4 Q282.5 1000.1 289.6 991.7 Q296.8 983.3 301.6 973.8 Q306.4 964.2 309.3 953.5 Q312.3 942.7 312.3 932.0 Q312.3 921.2 309.3 910.5 Q306.4 899.7 300.4 890.2 Q294.4 880.6 286.0 872.3 Q277.7 863.9 266.9 857.9 Q256.2 851.9 245.4 849.0 Q234.7 846.0 225.1 845.6 Q215.6 845.3 206.0 847.4 Q196.5 849.6 189.3 853.4 Q182.1 857.2 178.5 861.0 Q175.0 864.8 171.4 861.4 Z"/></clipPath>
<path d="M171.4 861.4 Q167.8 857.9 160.6 854.3 Q153.5 850.8 145.1 848.4 Q136.7 846.0 127.2 845.6 Q117.6 845.3 106.9 847.4 Q96.1 849.6 85.4 854.9 Q74.6 860.3 65.1 868.7 Q55.5 877.0 49.5 886.6 Q43.6 896.1 40.6 906.3 Q37.6 916.5 37.0 926.0 Q36.4 935.6 38.8 945.1 Q41.2 954.7 45.7 964.2 Q50.2 973.8 55.5 981.6 Q60.8 989.3 68.3 997.3 Q75.8 1005.3 86.2 1012.5 Q96.6 1019.7 109.5 1025.6 Q122.4 1031.6 132.0 1035.2 Q141.5 1038.8 150.1 1040.7 Q158.7 1042.6 163.0 1041.4 Q167.3 1040.2 169.0 1030.9 Q170.7 1021.6 171.4 1008.4 Q172.1 995.3 173.0 982.7 Q174.0 970.2 175.0 982.7 Q175.9 995.3 176.6 1008.4 Q177.3 1021.6 179.5 1031.4 Q181.6 1041.2 189.1 1042.4 Q196.5 1043.5 206.0 1041.6 Q215.6 1039.7 227.5 1035.4 Q239.5 1031.1 251.4 1024.0 Q263.4 1016.8 272.9 1008.4 Q282.5 1000.1 289.6 991.7 Q296.8 983.3 301.6 973.8 Q306.4 964.2 309.3 953.5 Q312.3 942.7 312.3 932.0 Q312.3 921.2 309.3 910.5 Q306.4 899.7 300.4 890.2 Q294.4 880.6 286.0 872.3 Q277.7 863.9 266.9 857.9 Q256.2 851.9 245.4 849.0 Q234.7 846.0 225.1 845.6 Q215.6 845.3 206.0 847.4 Q196.5 849.6 189.3 853.4 Q182.1 857.2 178.5 861.0 Q175.0 864.8 171.4 861.4 Z" fill="url(#brg)"/>
<g clip-path="url(#c3b)">
<rect x="34.00" y="844.00" width="279.00" height="201.00" fill="#000" filter="url(#nzd)" opacity="0.45"/>
<rect x="34.00" y="844.00" width="279.00" height="201.00" fill="#000" filter="url(#nzb)" opacity="0.2"/>
<path d="M69.8 983.3 L88.9 992.9 L112.8 1007.2 L141.5 1014.4 L158.2 1026.3" fill="none" stroke="#2a22b8" stroke-width="5" filter="url(#b2)" opacity="0.5"/>
<path d="M282.5 983.3 L261.0 995.3 L237.1 1004.8 L206.0 1012.0 L189.3 1026.3" fill="none" stroke="#2a22b8" stroke-width="5" filter="url(#b2)" opacity="0.5"/>
<polygon points="174.5,964.2 170.7,1007.2 167.8,1047.8 181.2,1047.8 177.3,1007.2" fill="#02011a" filter="url(#b2)"/>
<path d="M171.4 861.4 Q167.8 857.9 160.6 854.3 Q153.5 850.8 145.1 848.4 Q136.7 846.0 127.2 845.6 Q117.6 845.3 106.9 847.4 Q96.1 849.6 85.4 854.9 Q74.6 860.3 65.1 868.7 Q55.5 877.0 49.5 886.6 Q43.6 896.1 40.6 906.3 Q37.6 916.5 37.0 926.0 Q36.4 935.6 38.8 945.1 Q41.2 954.7 45.7 964.2 Q50.2 973.8 55.5 981.6 Q60.8 989.3 68.3 997.3 Q75.8 1005.3 86.2 1012.5 Q96.6 1019.7 109.5 1025.6 Q122.4 1031.6 132.0 1035.2 Q141.5 1038.8 150.1 1040.7 Q158.7 1042.6 163.0 1041.4 Q167.3 1040.2 169.0 1030.9 Q170.7 1021.6 171.4 1008.4 Q172.1 995.3 173.0 982.7 Q174.0 970.2 175.0 982.7 Q175.9 995.3 176.6 1008.4 Q177.3 1021.6 179.5 1031.4 Q181.6 1041.2 189.1 1042.4 Q196.5 1043.5 206.0 1041.6 Q215.6 1039.7 227.5 1035.4 Q239.5 1031.1 251.4 1024.0 Q263.4 1016.8 272.9 1008.4 Q282.5 1000.1 289.6 991.7 Q296.8 983.3 301.6 973.8 Q306.4 964.2 309.3 953.5 Q312.3 942.7 312.3 932.0 Q312.3 921.2 309.3 910.5 Q306.4 899.7 300.4 890.2 Q294.4 880.6 286.0 872.3 Q277.7 863.9 266.9 857.9 Q256.2 851.9 245.4 849.0 Q234.7 846.0 225.1 845.6 Q215.6 845.3 206.0 847.4 Q196.5 849.6 189.3 853.4 Q182.1 857.2 178.5 861.0 Q175.0 864.8 171.4 861.4 Z" fill="none" stroke="#2c26d8" stroke-width="3" filter="url(#b1)" opacity="0.85"/>
</g>
<polygon points="136.7,861.5 148.7,866.3 167.8,909.3 171.4,927.2 160.6,927.2 146.3,902.1" fill="#b87428" opacity="0.32" filter="url(#b3)"/>
<polygon points="180.2,904.5 208.4,902.6 213.7,921.2 209.6,941.5 197.7,948.7 181.6,943.9 178.8,926.0" fill="#c07c2a" opacity="0.45" filter="url(#b3)"/>
<polygon points="186.9,861.5 215.6,854.3 227.5,857.9 215.6,866.3 210.8,887.8 198.8,899.7 198.8,883.0 201.2,868.7" fill="#b87428" opacity="0.22" filter="url(#b3)"/>
<polygon points="124.8,848.6 142.7,850.0 152.3,871.1 164.2,894.9 174.0,911.7 174.5,930.3 158.2,931.3 148.2,920.0 138.2,896.1 130.5,871.1" fill="#fff" filter="url(#spk)" opacity="0.85"/>
<polygon points="234.2,855.8 220.3,851.0 201.2,852.4 186.9,859.6 178.8,870.6 191.7,870.6 204.8,866.8 201.2,885.4 191.7,897.3 177.3,901.6 176.4,930.8 178.8,947.5 198.8,953.7 213.7,943.2 218.9,918.8 212.7,899.7 218.0,883.0 222.7,866.3" fill="#fff" filter="url(#spk)" opacity="0.9"/>
<path d="M122.2 905.2 L175.9 869.0 L225.7 905.2" fill="none" stroke="#eeeaff" stroke-width="1.00" stroke-dasharray="2.6 1.7"/>
<path d="M130.3 915.8 L175.0 900.7 L217.8 915.2" fill="none" stroke="#eeeaff" stroke-width="1.00" stroke-dasharray="2.6 1.7"/>
<path d="M135.8 928.4 L174.4 932.4 L211.2 927.8" fill="none" stroke="#eeeaff" stroke-width="1.00" stroke-dasharray="2.6 1.7"/>
<path d="M175.9 866.0 L174.1 953.5" fill="none" stroke="#eeeaff" stroke-width="1.00" stroke-dasharray="2.6 1.7"/>
<path d="M122.2 905.2 L130.3 915.8 L135.8 928.4 L134.9 942.9 L137.3 955.0 L174.1 953.5 L208.2 954.4 L209.7 941.4 L211.2 927.8 L217.8 915.2 L225.7 905.2" fill="none" stroke="#eeeaff" stroke-width="1.00" stroke-dasharray="2.6 1.7"/>
<line x1="262.50" y1="1033.50" x2="305.40" y2="1033.50" stroke="#fff" stroke-width="2.00"/>
</g></g>
<g id="charts"><rect x="657.10" y="89.60" width="41.60" height="185.90" fill="#000"/>
<rect x="720.10" y="128.80" width="41.60" height="146.70" fill="#005500"/>
<line x1="677.92" y1="82.97" x2="677.92" y2="95.46" stroke="#a6a6a6" stroke-width="1.10"/>
<line x1="667.62" y1="82.97" x2="688.22" y2="82.97" stroke="#a6a6a6" stroke-width="1.10"/>
<line x1="667.62" y1="95.46" x2="688.22" y2="95.46" stroke="#a6a6a6" stroke-width="1.10"/>
<line x1="740.90" y1="120.43" x2="740.90" y2="137.08" stroke="#a6a6a6" stroke-width="1.10"/>
<line x1="730.50" y1="120.43" x2="751.30" y2="120.43" stroke="#a6a6a6" stroke-width="1.10"/>
<line x1="730.50" y1="137.08" x2="751.30" y2="137.08" stroke="#a6a6a6" stroke-width="1.10"/>
<circle cx="677.92" cy="64.66" r="2.60" fill="#949494"/>
<circle cx="677.92" cy="78.53" r="2.60" fill="#949494"/>
<circle cx="673.76" cy="83.53" r="2.60" fill="#949494"/>
<circle cx="682.08" cy="86.30" r="2.60" fill="#949494"/>
<circle cx="677.92" cy="94.07" r="2.60" fill="#949494"/>
<circle cx="677.92" cy="104.89" r="2.60" fill="#949494"/>
<circle cx="677.92" cy="112.38" r="2.60" fill="#949494"/>
<circle cx="732.02" cy="99.34" r="2.60" fill="#949494"/>
<circle cx="740.90" cy="105.72" r="2.60" fill="#949494"/>
<circle cx="749.50" cy="101.56" r="2.60" fill="#949494"/>
<circle cx="740.90" cy="129.86" r="2.60" fill="#949494"/>
<circle cx="732.02" cy="145.12" r="2.60" fill="#949494"/>
<circle cx="749.50" cy="146.23" r="2.60" fill="#949494"/>
<circle cx="740.90" cy="150.12" r="2.60" fill="#949494"/>
<circle cx="740.90" cy="153.45" r="2.60" fill="#949494"/>
<line x1="636.30" y1="56.00" x2="636.30" y2="276.50" stroke="#000" stroke-width="2.00"/>
<line x1="628.00" y1="275.50" x2="783.50" y2="275.50" stroke="#000" stroke-width="2.00"/>
<line x1="627.50" y1="67.70" x2="636.30" y2="67.70" stroke="#000" stroke-width="2.00"/>
<text x="624.40" y="73.78" font-size="16.00" text-anchor="end" font-weight="700" fill="#000">200</text>
<line x1="627.50" y1="119.70" x2="636.30" y2="119.70" stroke="#000" stroke-width="2.00"/>
<text x="624.40" y="125.78" font-size="16.00" text-anchor="end" font-weight="700" fill="#000">150</text>
<line x1="627.50" y1="171.60" x2="636.30" y2="171.60" stroke="#000" stroke-width="2.00"/>
<text x="624.40" y="177.68" font-size="16.00" text-anchor="end" font-weight="700" fill="#000">100</text>
<line x1="627.50" y1="223.60" x2="636.30" y2="223.60" stroke="#000" stroke-width="2.00"/>
<text x="624.40" y="229.68" font-size="16.00" text-anchor="end" font-weight="700" fill="#000">50</text>
<line x1="627.50" y1="275.50" x2="636.30" y2="275.50" stroke="#000" stroke-width="2.00"/>
<text x="624.40" y="281.58" font-size="16.00" text-anchor="end" font-weight="700" fill="#000">0</text>
<text transform="translate(580.50 159.50) rotate(-90)" font-size="17.50" text-anchor="middle" font-weight="700" fill="#000">Immobility time (s)</text>
<line x1="679.30" y1="45.50" x2="737.60" y2="45.50" stroke="#000" stroke-width="1.50"/>
<text x="708.40" y="37.50" font-size="17.00" text-anchor="middle" fill="#000">**</text>
<text x="675.30" y="301.30" font-size="17.00" text-anchor="middle" fill="#000">saline</text>
<text x="741.20" y="301.30" font-size="17.00" text-anchor="middle" fill="#000">Ado</text>
<rect x="951.80" y="141.80" width="41.70" height="133.70" fill="#000"/>
<rect x="1014.50" y="104.30" width="42.20" height="171.20" fill="#005500"/>
<line x1="972.64" y1="133.47" x2="972.64" y2="150.12" stroke="#a6a6a6" stroke-width="1.10"/>
<line x1="962.04" y1="133.47" x2="983.24" y2="133.47" stroke="#a6a6a6" stroke-width="1.10"/>
<line x1="962.04" y1="150.12" x2="983.24" y2="150.12" stroke="#a6a6a6" stroke-width="1.10"/>
<line x1="1035.34" y1="94.07" x2="1035.34" y2="113.49" stroke="#a6a6a6" stroke-width="1.10"/>
<line x1="1024.94" y1="94.07" x2="1045.74" y2="94.07" stroke="#a6a6a6" stroke-width="1.10"/>
<line x1="1024.94" y1="113.49" x2="1045.74" y2="113.49" stroke="#a6a6a6" stroke-width="1.10"/>
<circle cx="972.64" cy="102.39" r="2.60" fill="#949494"/>
<circle cx="972.64" cy="121.82" r="2.60" fill="#949494"/>
<circle cx="976.80" cy="141.24" r="2.60" fill="#949494"/>
<circle cx="968.47" cy="141.24" r="2.60" fill="#949494"/>
<circle cx="972.64" cy="137.08" r="2.60" fill="#949494"/>
<circle cx="972.64" cy="151.50" r="2.60" fill="#949494"/>
<circle cx="972.64" cy="163.99" r="2.60" fill="#949494"/>
<circle cx="972.64" cy="175.09" r="2.60" fill="#949494"/>
<circle cx="1035.34" cy="68.27" r="2.60" fill="#949494"/>
<circle cx="1035.34" cy="74.09" r="2.60" fill="#949494"/>
<circle cx="1040.06" cy="98.23" r="2.60" fill="#949494"/>
<circle cx="1030.90" cy="101.01" r="2.60" fill="#949494"/>
<circle cx="1040.06" cy="105.72" r="2.60" fill="#949494"/>
<circle cx="1035.34" cy="110.44" r="2.60" fill="#949494"/>
<circle cx="1035.34" cy="118.76" r="2.60" fill="#949494"/>
<circle cx="1035.34" cy="157.05" r="2.60" fill="#949494"/>
<line x1="930.50" y1="56.00" x2="930.50" y2="276.50" stroke="#000" stroke-width="2.00"/>
<line x1="922.00" y1="275.50" x2="1078.50" y2="275.50" stroke="#000" stroke-width="2.00"/>
<line x1="921.70" y1="57.80" x2="930.50" y2="57.80" stroke="#000" stroke-width="2.00"/>
<text x="918.60" y="63.88" font-size="16.00" text-anchor="end" font-weight="700" fill="#000">100</text>
<line x1="921.70" y1="101.30" x2="930.50" y2="101.30" stroke="#000" stroke-width="2.00"/>
<text x="918.60" y="107.38" font-size="16.00" text-anchor="end" font-weight="700" fill="#000">80</text>
<line x1="921.70" y1="144.90" x2="930.50" y2="144.90" stroke="#000" stroke-width="2.00"/>
<text x="918.60" y="150.98" font-size="16.00" text-anchor="end" font-weight="700" fill="#000">60</text>
<line x1="921.70" y1="188.40" x2="930.50" y2="188.40" stroke="#000" stroke-width="2.00"/>
<text x="918.60" y="194.48" font-size="16.00" text-anchor="end" font-weight="700" fill="#000">40</text>
<line x1="921.70" y1="232.00" x2="930.50" y2="232.00" stroke="#000" stroke-width="2.00"/>
<text x="918.60" y="238.08" font-size="16.00" text-anchor="end" font-weight="700" fill="#000">20</text>
<line x1="921.70" y1="275.50" x2="930.50" y2="275.50" stroke="#000" stroke-width="2.00"/>
<text x="918.60" y="281.58" font-size="16.00" text-anchor="end" font-weight="700" fill="#000">0</text>
<text transform="translate(873.00 165.00) rotate(-90)" font-size="17.50" text-anchor="middle" font-weight="700" fill="#000">Sucrose preference  (%)</text>
<line x1="974.90" y1="45.50" x2="1033.10" y2="45.50" stroke="#000" stroke-width="1.50"/>
<text x="1003.40" y="37.50" font-size="17.00" text-anchor="middle" fill="#000">**</text>
<text x="970.90" y="301.30" font-size="17.00" text-anchor="middle" fill="#000">saline</text>
<text x="1035.20" y="301.30" font-size="17.00" text-anchor="middle" fill="#000">Ado</text>
<rect x="628.60" y="468.70" width="39.20" height="178.00" fill="#000"/>
<rect x="688.10" y="518.80" width="39.80" height="127.90" fill="#1496b4"/>
<rect x="748.90" y="487.40" width="39.50" height="159.30" fill="#a00000"/>
<line x1="647.61" y1="459.66" x2="647.61" y2="478.14" stroke="#8c8c8c" stroke-width="1.20"/>
<line x1="637.41" y1="459.66" x2="657.81" y2="459.66" stroke="#8c8c8c" stroke-width="1.20"/>
<line x1="637.41" y1="478.14" x2="657.81" y2="478.14" stroke="#8c8c8c" stroke-width="1.20"/>
<line x1="707.92" y1="510.89" x2="707.92" y2="526.45" stroke="#8c8c8c" stroke-width="1.20"/>
<line x1="697.92" y1="510.89" x2="717.92" y2="510.89" stroke="#8c8c8c" stroke-width="1.20"/>
<line x1="697.92" y1="526.45" x2="717.92" y2="526.45" stroke="#8c8c8c" stroke-width="1.20"/>
<line x1="768.39" y1="483.17" x2="768.39" y2="492.41" stroke="#8c8c8c" stroke-width="1.20"/>
<line x1="758.29" y1="483.17" x2="778.49" y2="483.17" stroke="#8c8c8c" stroke-width="1.20"/>
<line x1="758.29" y1="492.41" x2="778.49" y2="492.41" stroke="#8c8c8c" stroke-width="1.20"/>
<circle cx="647.61" cy="415.73" r="2.60" fill="#8a8a8a"/>
<circle cx="643.07" cy="429.51" r="2.60" fill="#8a8a8a"/>
<circle cx="652.31" cy="429.83" r="2.60" fill="#8a8a8a"/>
<circle cx="647.61" cy="468.90" r="2.60" fill="#8a8a8a"/>
<circle cx="643.07" cy="475.87" r="2.60" fill="#8a8a8a"/>
<circle cx="652.31" cy="477.01" r="2.60" fill="#8a8a8a"/>
<circle cx="647.61" cy="484.79" r="2.60" fill="#8a8a8a"/>
<circle cx="638.53" cy="491.76" r="2.60" fill="#8a8a8a"/>
<circle cx="647.61" cy="492.57" r="2.60" fill="#8a8a8a"/>
<circle cx="656.85" cy="493.22" r="2.60" fill="#8a8a8a"/>
<circle cx="638.53" cy="496.95" r="2.60" fill="#8a8a8a"/>
<circle cx="707.92" cy="477.49" r="2.60" fill="#8a8a8a"/>
<circle cx="703.38" cy="486.25" r="2.60" fill="#8a8a8a"/>
<circle cx="712.46" cy="486.25" r="2.60" fill="#8a8a8a"/>
<circle cx="707.92" cy="498.89" r="2.60" fill="#8a8a8a"/>
<circle cx="707.92" cy="505.70" r="2.60" fill="#8a8a8a"/>
<circle cx="703.38" cy="520.78" r="2.60" fill="#8a8a8a"/>
<circle cx="712.46" cy="524.51" r="2.60" fill="#8a8a8a"/>
<circle cx="707.92" cy="530.99" r="2.60" fill="#8a8a8a"/>
<circle cx="712.46" cy="542.18" r="2.60" fill="#8a8a8a"/>
<circle cx="703.38" cy="546.72" r="2.60" fill="#8a8a8a"/>
<circle cx="712.46" cy="552.06" r="2.60" fill="#8a8a8a"/>
<circle cx="703.38" cy="556.12" r="2.60" fill="#8a8a8a"/>
<circle cx="777.47" cy="466.63" r="2.60" fill="#8a8a8a"/>
<circle cx="768.39" cy="469.71" r="2.60" fill="#8a8a8a"/>
<circle cx="768.39" cy="477.82" r="2.60" fill="#8a8a8a"/>
<circle cx="768.39" cy="483.81" r="2.60" fill="#8a8a8a"/>
<circle cx="759.15" cy="489.65" r="2.60" fill="#8a8a8a"/>
<circle cx="768.39" cy="489.65" r="2.60" fill="#8a8a8a"/>
<circle cx="777.47" cy="489.65" r="2.60" fill="#8a8a8a"/>
<circle cx="763.85" cy="497.76" r="2.60" fill="#8a8a8a"/>
<circle cx="772.93" cy="497.76" r="2.60" fill="#8a8a8a"/>
<circle cx="768.39" cy="511.37" r="2.60" fill="#8a8a8a"/>
<line x1="607.80" y1="408.70" x2="607.80" y2="647.70" stroke="#000" stroke-width="2.00"/>
<line x1="598.00" y1="646.70" x2="810.00" y2="646.70" stroke="#000" stroke-width="2.00"/>
<line x1="598.00" y1="410.70" x2="607.80" y2="410.70" stroke="#000" stroke-width="2.00"/>
<text x="594.90" y="417.24" font-size="17.30" text-anchor="end" font-weight="700" fill="#000">200</text>
<line x1="598.00" y1="469.60" x2="607.80" y2="469.60" stroke="#000" stroke-width="2.00"/>
<text x="594.90" y="476.14" font-size="17.30" text-anchor="end" font-weight="700" fill="#000">150</text>
<line x1="598.00" y1="528.50" x2="607.80" y2="528.50" stroke="#000" stroke-width="2.00"/>
<text x="594.90" y="535.04" font-size="17.30" text-anchor="end" font-weight="700" fill="#000">100</text>
<line x1="598.00" y1="587.40" x2="607.80" y2="587.40" stroke="#000" stroke-width="2.00"/>
<text x="594.90" y="593.94" font-size="17.30" text-anchor="end" font-weight="700" fill="#000">50</text>
<line x1="598.00" y1="646.70" x2="607.80" y2="646.70" stroke="#000" stroke-width="2.00"/>
<text x="594.90" y="653.24" font-size="17.30" text-anchor="end" font-weight="700" fill="#000">0</text>
<text transform="translate(559.00 522.50) rotate(-90)" font-size="17.50" text-anchor="middle" font-weight="700" fill="#000">Immobility time (s)</text>
<line x1="648.70" y1="393.50" x2="703.50" y2="393.50" stroke="#000" stroke-width="1.50"/>
<line x1="711.60" y1="393.50" x2="766.10" y2="393.50" stroke="#000" stroke-width="1.50"/>
<text x="675.30" y="386.00" font-size="17.00" text-anchor="middle" fill="#000">***</text>
<text x="737.30" y="386.00" font-size="17.00" text-anchor="middle" fill="#000">**</text>
<text x="578.20" y="674.40" font-size="17.00" text-anchor="start" fill="#000">light</text>
<text x="648.00" y="674.40" font-size="17.00" text-anchor="middle" fill="#000">off</text>
<text x="709.00" y="674.40" font-size="17.00" text-anchor="middle" fill="#000">on</text>
<text x="768.00" y="674.40" font-size="17.00" text-anchor="middle" fill="#000">on</text>
<line x1="626.00" y1="683.50" x2="729.50" y2="683.50" stroke="#000" stroke-width="1.50"/>
<text x="677.80" y="702.60" font-size="17.00" text-anchor="middle" fill="#000">cOPN5</text>
<text x="768.80" y="702.60" font-size="17.00" text-anchor="middle" fill="#000">mCherry</text>
<rect x="968.50" y="499.00" width="39.10" height="147.70" fill="#000"/>
<rect x="1027.70" y="461.40" width="39.10" height="185.30" fill="#1496b4"/>
<rect x="1086.50" y="497.50" width="39.20" height="149.20" fill="#a00000"/>
<line x1="987.59" y1="487.28" x2="987.59" y2="510.96" stroke="#6e6e6e" stroke-width="1.90"/>
<line x1="978.19" y1="487.28" x2="996.99" y2="487.28" stroke="#6e6e6e" stroke-width="1.90"/>
<line x1="978.19" y1="510.96" x2="996.99" y2="510.96" stroke="#6e6e6e" stroke-width="1.90"/>
<line x1="1046.79" y1="456.27" x2="1046.79" y2="465.48" stroke="#6e6e6e" stroke-width="1.90"/>
<line x1="1037.39" y1="456.27" x2="1056.19" y2="456.27" stroke="#6e6e6e" stroke-width="1.90"/>
<line x1="1037.39" y1="465.48" x2="1056.19" y2="465.48" stroke="#6e6e6e" stroke-width="1.90"/>
<line x1="1105.98" y1="482.39" x2="1105.98" y2="512.65" stroke="#8a8a8a" stroke-width="1.00"/>
<line x1="1096.58" y1="482.39" x2="1115.38" y2="482.39" stroke="#8a8a8a" stroke-width="1.00"/>
<line x1="1096.58" y1="512.65" x2="1115.38" y2="512.65" stroke="#8a8a8a" stroke-width="1.00"/>
<circle cx="987.59" cy="441.05" r="2.60" fill="#6c6c6c"/>
<circle cx="987.59" cy="454.20" r="2.60" fill="#6c6c6c"/>
<circle cx="983.08" cy="468.49" r="2.60" fill="#6c6c6c"/>
<circle cx="991.91" cy="467.17" r="2.60" fill="#6c6c6c"/>
<circle cx="987.59" cy="484.84" r="2.60" fill="#6c6c6c"/>
<circle cx="987.59" cy="506.82" r="2.60" fill="#6c6c6c"/>
<circle cx="987.59" cy="518.29" r="2.60" fill="#6c6c6c"/>
<circle cx="991.91" cy="523.74" r="2.60" fill="#6c6c6c"/>
<circle cx="983.08" cy="526.93" r="2.60" fill="#6c6c6c"/>
<circle cx="987.59" cy="542.34" r="2.60" fill="#6c6c6c"/>
<circle cx="987.59" cy="557.57" r="2.60" fill="#6c6c6c"/>
<circle cx="1055.62" cy="441.24" r="2.60" fill="#6c6c6c"/>
<circle cx="1037.76" cy="443.49" r="2.60" fill="#6c6c6c"/>
<circle cx="1046.79" cy="442.93" r="2.60" fill="#6c6c6c"/>
<circle cx="1037.76" cy="449.13" r="2.60" fill="#6c6c6c"/>
<circle cx="1046.79" cy="453.45" r="2.60" fill="#6c6c6c"/>
<circle cx="1046.79" cy="458.15" r="2.60" fill="#6c6c6c"/>
<circle cx="1037.76" cy="463.60" r="2.60" fill="#6c6c6c"/>
<circle cx="1037.76" cy="467.92" r="2.60" fill="#6c6c6c"/>
<circle cx="1055.62" cy="470.37" r="2.60" fill="#6c6c6c"/>
<circle cx="1046.79" cy="489.54" r="2.60" fill="#6c6c6c"/>
<circle cx="1046.79" cy="494.80" r="2.60" fill="#6c6c6c"/>
<circle cx="1110.31" cy="442.93" r="2.60" fill="#6c6c6c"/>
<circle cx="1101.47" cy="444.43" r="2.60" fill="#6c6c6c"/>
<circle cx="1105.98" cy="450.45" r="2.60" fill="#6c6c6c"/>
<circle cx="1110.31" cy="484.09" r="2.60" fill="#6c6c6c"/>
<circle cx="1101.47" cy="488.03" r="2.60" fill="#6c6c6c"/>
<circle cx="1110.31" cy="490.29" r="2.60" fill="#6c6c6c"/>
<circle cx="1101.47" cy="494.05" r="2.60" fill="#6c6c6c"/>
<circle cx="1110.31" cy="496.68" r="2.60" fill="#6c6c6c"/>
<circle cx="1105.98" cy="521.67" r="2.60" fill="#6c6c6c"/>
<circle cx="1105.98" cy="548.92" r="2.60" fill="#6c6c6c"/>
<circle cx="1105.98" cy="613.01" r="2.60" fill="#6c6c6c"/>
<line x1="948.10" y1="408.70" x2="948.10" y2="647.70" stroke="#000" stroke-width="2.00"/>
<line x1="938.00" y1="646.70" x2="1146.70" y2="646.70" stroke="#000" stroke-width="2.00"/>
<line x1="938.30" y1="410.70" x2="948.10" y2="410.70" stroke="#000" stroke-width="2.00"/>
<text x="935.20" y="417.24" font-size="17.30" text-anchor="end" font-weight="700" fill="#000">100</text>
<line x1="938.30" y1="457.80" x2="948.10" y2="457.80" stroke="#000" stroke-width="2.00"/>
<text x="935.20" y="464.34" font-size="17.30" text-anchor="end" font-weight="700" fill="#000">80</text>
<line x1="938.30" y1="505.00" x2="948.10" y2="505.00" stroke="#000" stroke-width="2.00"/>
<text x="935.20" y="511.54" font-size="17.30" text-anchor="end" font-weight="700" fill="#000">60</text>
<line x1="938.30" y1="552.10" x2="948.10" y2="552.10" stroke="#000" stroke-width="2.00"/>
<text x="935.20" y="558.64" font-size="17.30" text-anchor="end" font-weight="700" fill="#000">40</text>
<line x1="938.30" y1="599.20" x2="948.10" y2="599.20" stroke="#000" stroke-width="2.00"/>
<text x="935.20" y="605.74" font-size="17.30" text-anchor="end" font-weight="700" fill="#000">20</text>
<line x1="938.30" y1="646.70" x2="948.10" y2="646.70" stroke="#000" stroke-width="2.00"/>
<text x="935.20" y="653.24" font-size="17.30" text-anchor="end" font-weight="700" fill="#000">0</text>
<text transform="translate(893.30 522.90) rotate(-90)" font-size="17.35" text-anchor="middle" font-weight="700" fill="#000">Sucrose preference (%)</text>
<line x1="988.50" y1="393.50" x2="1042.70" y2="393.50" stroke="#000" stroke-width="1.50"/>
<line x1="1050.50" y1="393.50" x2="1105.30" y2="393.50" stroke="#000" stroke-width="1.50"/>
<text x="1015.40" y="386.00" font-size="17.00" text-anchor="middle" fill="#000">**</text>
<text x="1077.40" y="386.00" font-size="17.00" text-anchor="middle" fill="#000">*</text>
<text x="922.00" y="674.00" font-size="17.00" text-anchor="start" fill="#000">light</text>
<text x="987.30" y="674.40" font-size="17.00" text-anchor="middle" fill="#000">off</text>
<text x="1047.40" y="674.40" font-size="17.00" text-anchor="middle" fill="#000">on</text>
<text x="1106.30" y="674.40" font-size="17.00" text-anchor="middle" fill="#000">on</text>
<line x1="965.00" y1="683.50" x2="1067.70" y2="683.50" stroke="#000" stroke-width="1.50"/>
<text x="1016.70" y="702.60" font-size="17.00" text-anchor="middle" fill="#000">cOPN5</text>
<text x="1107.50" y="702.60" font-size="17.00" text-anchor="middle" fill="#000">mCherry</text>
<rect x="429.80" y="825.70" width="33.00" height="178.00" fill="#000"/>
<rect x="480.40" y="867.50" width="32.30" height="136.20" fill="#a00000"/>
<rect x="530.70" y="837.40" width="33.00" height="166.30" fill="#333333"/>
<rect x="581.30" y="840.30" width="33.00" height="163.40" fill="#fa3c3c"/>
<rect x="631.60" y="847.30" width="33.00" height="156.40" fill="#808080"/>
<rect x="682.20" y="851.00" width="33.00" height="152.70" fill="#ff8080"/>
<line x1="445.92" y1="819.15" x2="445.92" y2="831.58" stroke="#848484" stroke-width="1.25"/>
<line x1="437.62" y1="819.15" x2="454.22" y2="819.15" stroke="#848484" stroke-width="1.25"/>
<line x1="437.62" y1="831.58" x2="454.22" y2="831.58" stroke="#848484" stroke-width="1.25"/>
<line x1="496.71" y1="857.50" x2="496.71" y2="877.34" stroke="#848484" stroke-width="1.25"/>
<line x1="488.41" y1="857.50" x2="505.01" y2="857.50" stroke="#848484" stroke-width="1.25"/>
<line x1="488.41" y1="877.34" x2="505.01" y2="877.34" stroke="#848484" stroke-width="1.25"/>
<line x1="546.96" y1="833.69" x2="546.96" y2="841.37" stroke="#848484" stroke-width="1.25"/>
<line x1="538.66" y1="833.69" x2="555.26" y2="833.69" stroke="#848484" stroke-width="1.25"/>
<line x1="538.66" y1="841.37" x2="555.26" y2="841.37" stroke="#848484" stroke-width="1.25"/>
<line x1="597.48" y1="832.90" x2="597.48" y2="841.89" stroke="#848484" stroke-width="1.25"/>
<line x1="589.18" y1="832.90" x2="605.78" y2="832.90" stroke="#848484" stroke-width="1.25"/>
<line x1="589.18" y1="841.89" x2="605.78" y2="841.89" stroke="#848484" stroke-width="1.25"/>
<line x1="647.74" y1="837.66" x2="647.74" y2="855.38" stroke="#848484" stroke-width="1.25"/>
<line x1="639.44" y1="837.66" x2="656.04" y2="837.66" stroke="#848484" stroke-width="1.25"/>
<line x1="639.44" y1="855.38" x2="656.04" y2="855.38" stroke="#848484" stroke-width="1.25"/>
<line x1="698.26" y1="843.48" x2="698.26" y2="857.24" stroke="#848484" stroke-width="1.25"/>
<line x1="689.96" y1="843.48" x2="706.56" y2="843.48" stroke="#848484" stroke-width="1.25"/>
<line x1="689.96" y1="857.24" x2="706.56" y2="857.24" stroke="#848484" stroke-width="1.25"/>
<circle cx="445.92" cy="802.48" r="2.60" fill="#686868"/>
<circle cx="445.92" cy="809.10" r="2.60" fill="#686868"/>
<circle cx="441.69" cy="821.79" r="2.60" fill="#686868"/>
<circle cx="450.42" cy="824.97" r="2.60" fill="#686868"/>
<circle cx="445.92" cy="830.26" r="2.60" fill="#686868"/>
<circle cx="445.92" cy="836.87" r="2.60" fill="#686868"/>
<circle cx="445.92" cy="849.56" r="2.60" fill="#686868"/>
<circle cx="487.98" cy="834.75" r="2.60" fill="#686868"/>
<circle cx="496.71" cy="836.34" r="2.60" fill="#686868"/>
<circle cx="505.17" cy="833.17" r="2.60" fill="#686868"/>
<circle cx="496.71" cy="857.50" r="2.60" fill="#686868"/>
<circle cx="496.71" cy="869.93" r="2.60" fill="#686868"/>
<circle cx="496.71" cy="873.90" r="2.60" fill="#686868"/>
<circle cx="496.71" cy="888.98" r="2.60" fill="#686868"/>
<circle cx="491.95" cy="906.43" r="2.60" fill="#686868"/>
<circle cx="501.20" cy="905.38" r="2.60" fill="#686868"/>
<circle cx="546.96" cy="819.15" r="2.60" fill="#686868"/>
<circle cx="555.43" cy="831.58" r="2.60" fill="#686868"/>
<circle cx="546.96" cy="836.08" r="2.60" fill="#686868"/>
<circle cx="538.50" cy="841.37" r="2.60" fill="#686868"/>
<circle cx="555.43" cy="841.37" r="2.60" fill="#686868"/>
<circle cx="546.96" cy="843.48" r="2.60" fill="#686868"/>
<circle cx="546.96" cy="848.24" r="2.60" fill="#686868"/>
<circle cx="597.48" cy="800.10" r="2.60" fill="#686868"/>
<circle cx="593.25" cy="817.82" r="2.60" fill="#686868"/>
<circle cx="601.72" cy="816.77" r="2.60" fill="#686868"/>
<circle cx="597.48" cy="830.78" r="2.60" fill="#686868"/>
<circle cx="597.48" cy="840.84" r="2.60" fill="#686868"/>
<circle cx="597.48" cy="849.56" r="2.60" fill="#686868"/>
<circle cx="593.25" cy="858.03" r="2.60" fill="#686868"/>
<circle cx="601.98" cy="856.71" r="2.60" fill="#686868"/>
<circle cx="601.98" cy="862.53" r="2.60" fill="#686868"/>
<circle cx="597.48" cy="869.14" r="2.60" fill="#686868"/>
<circle cx="647.74" cy="810.95" r="2.60" fill="#686868"/>
<circle cx="643.51" cy="825.23" r="2.60" fill="#686868"/>
<circle cx="652.24" cy="823.64" r="2.60" fill="#686868"/>
<circle cx="647.74" cy="840.84" r="2.60" fill="#686868"/>
<circle cx="643.51" cy="846.66" r="2.60" fill="#686868"/>
<circle cx="652.24" cy="849.30" r="2.60" fill="#686868"/>
<circle cx="643.51" cy="862.53" r="2.60" fill="#686868"/>
<circle cx="652.24" cy="864.64" r="2.60" fill="#686868"/>
<circle cx="647.74" cy="897.18" r="2.60" fill="#686868"/>
<circle cx="694.03" cy="824.97" r="2.60" fill="#686868"/>
<circle cx="702.49" cy="826.55" r="2.60" fill="#686868"/>
<circle cx="698.26" cy="834.75" r="2.60" fill="#686868"/>
<circle cx="689.80" cy="847.71" r="2.60" fill="#686868"/>
<circle cx="698.26" cy="850.36" r="2.60" fill="#686868"/>
<circle cx="706.99" cy="849.30" r="2.60" fill="#686868"/>
<circle cx="706.99" cy="864.11" r="2.60" fill="#686868"/>
<circle cx="698.26" cy="867.82" r="2.60" fill="#686868"/>
<circle cx="698.26" cy="888.98" r="2.60" fill="#686868"/>
<line x1="412.80" y1="778.10" x2="412.80" y2="1004.70" stroke="#000" stroke-width="2.00"/>
<line x1="403.90" y1="1003.70" x2="733.60" y2="1003.70" stroke="#000" stroke-width="2.00"/>
<line x1="403.90" y1="780.10" x2="412.80" y2="780.10" stroke="#000" stroke-width="2.00"/>
<text x="399.60" y="786.18" font-size="16.00" text-anchor="end" font-weight="700" fill="#000">200</text>
<line x1="403.90" y1="836.00" x2="412.80" y2="836.00" stroke="#000" stroke-width="2.00"/>
<text x="399.60" y="842.08" font-size="16.00" text-anchor="end" font-weight="700" fill="#000">150</text>
<line x1="403.90" y1="891.90" x2="412.80" y2="891.90" stroke="#000" stroke-width="2.00"/>
<text x="399.60" y="897.98" font-size="16.00" text-anchor="end" font-weight="700" fill="#000">100</text>
<line x1="403.90" y1="947.80" x2="412.80" y2="947.80" stroke="#000" stroke-width="2.00"/>
<text x="399.60" y="953.88" font-size="16.00" text-anchor="end" font-weight="700" fill="#000">50</text>
<line x1="403.90" y1="1003.70" x2="412.80" y2="1003.70" stroke="#000" stroke-width="2.00"/>
<text x="399.60" y="1009.78" font-size="16.00" text-anchor="end" font-weight="700" fill="#000">0</text>
<text transform="translate(357.30 884.40) rotate(-90)" font-size="17.40" text-anchor="middle" font-weight="700" fill="#000">Immobility time (s)</text>
<line x1="450.30" y1="755.20" x2="493.30" y2="755.20" stroke="#000" stroke-width="1.50"/>
<line x1="552.00" y1="755.20" x2="594.90" y2="755.20" stroke="#000" stroke-width="1.50"/>
<line x1="650.30" y1="755.20" x2="694.00" y2="755.20" stroke="#000" stroke-width="1.50"/>
<text x="472.00" y="749.00" font-size="17.00" text-anchor="middle" fill="#000">**</text>
<text x="572.10" y="748.80" font-size="13.50" text-anchor="middle" fill="#333">0.75</text>
<text x="672.00" y="748.80" font-size="13.50" text-anchor="middle" fill="#333">0.74</text>
<text x="373.30" y="1032.00" font-size="17.00" text-anchor="start" fill="#000">CRS</text>
<text x="355.70" y="1063.00" font-size="17.00" text-anchor="start" fill="#000">ketamine</text>
<text x="446.70" y="1032.50" font-size="17.00" text-anchor="middle" fill="#000">+</text>
<text x="446.70" y="1062.50" font-size="17.00" text-anchor="middle" fill="#000">-</text>
<text x="496.90" y="1032.50" font-size="17.00" text-anchor="middle" fill="#000">+</text>
<text x="496.90" y="1062.50" font-size="17.00" text-anchor="middle" fill="#000">+</text>
<text x="547.60" y="1032.50" font-size="17.00" text-anchor="middle" fill="#000">+</text>
<text x="547.60" y="1062.50" font-size="17.00" text-anchor="middle" fill="#000">-</text>
<text x="597.80" y="1032.50" font-size="17.00" text-anchor="middle" fill="#000">+</text>
<text x="597.80" y="1062.50" font-size="17.00" text-anchor="middle" fill="#000">+</text>
<text x="648.50" y="1032.50" font-size="17.00" text-anchor="middle" fill="#000">+</text>
<text x="648.50" y="1062.50" font-size="17.00" text-anchor="middle" fill="#000">-</text>
<text x="698.70" y="1032.50" font-size="17.00" text-anchor="middle" fill="#000">+</text>
<text x="698.70" y="1062.50" font-size="17.00" text-anchor="middle" fill="#000">+</text>
<line x1="439.00" y1="1078.90" x2="503.20" y2="1078.90" stroke="#000" stroke-width="1.50"/>
<line x1="542.10" y1="1078.90" x2="607.00" y2="1078.90" stroke="#000" stroke-width="1.50"/>
<line x1="643.70" y1="1078.90" x2="709.00" y2="1078.90" stroke="#000" stroke-width="1.50"/>
<text x="471.30" y="1101.60" font-size="17.00" text-anchor="middle" fill="#000">ctrl sgRNA</text>
<text x="573.20" y="1101.60" font-size="17.00" text-anchor="middle" fill="#000">A1 sgRNA</text>
<text x="677.40" y="1101.60" font-size="17.00" text-anchor="middle" fill="#000">A2A sgRNA</text>
<rect x="841.20" y="869.30" width="33.60" height="134.40" fill="#000"/>
<rect x="892.40" y="836.70" width="32.30" height="167.00" fill="#a00000"/>
<rect x="942.70" y="873.00" width="33.00" height="130.70" fill="#333333"/>
<rect x="993.30" y="878.50" width="33.00" height="125.20" fill="#fa3c3c"/>
<rect x="1043.60" y="855.80" width="33.00" height="147.90" fill="#808080"/>
<rect x="1094.20" y="865.70" width="33.00" height="138.00" fill="#ff8080"/>
<line x1="857.92" y1="862.53" x2="857.92" y2="877.34" stroke="#848484" stroke-width="1.25"/>
<line x1="849.62" y1="862.53" x2="866.22" y2="862.53" stroke="#848484" stroke-width="1.25"/>
<line x1="849.62" y1="877.34" x2="866.22" y2="877.34" stroke="#848484" stroke-width="1.25"/>
<line x1="908.44" y1="827.61" x2="908.44" y2="846.66" stroke="#848484" stroke-width="1.25"/>
<line x1="900.14" y1="827.61" x2="916.74" y2="827.61" stroke="#848484" stroke-width="1.25"/>
<line x1="900.14" y1="846.66" x2="916.74" y2="846.66" stroke="#848484" stroke-width="1.25"/>
<line x1="958.96" y1="863.32" x2="958.96" y2="882.63" stroke="#848484" stroke-width="1.25"/>
<line x1="950.66" y1="863.32" x2="967.26" y2="863.32" stroke="#848484" stroke-width="1.25"/>
<line x1="950.66" y1="882.63" x2="967.26" y2="882.63" stroke="#848484" stroke-width="1.25"/>
<line x1="1009.48" y1="863.58" x2="1009.48" y2="892.41" stroke="#848484" stroke-width="1.25"/>
<line x1="1001.18" y1="863.58" x2="1017.78" y2="863.58" stroke="#848484" stroke-width="1.25"/>
<line x1="1001.18" y1="892.41" x2="1017.78" y2="892.41" stroke="#848484" stroke-width="1.25"/>
<line x1="1059.74" y1="847.18" x2="1059.74" y2="863.58" stroke="#848484" stroke-width="1.25"/>
<line x1="1051.44" y1="847.18" x2="1068.04" y2="847.18" stroke="#848484" stroke-width="1.25"/>
<line x1="1051.44" y1="863.58" x2="1068.04" y2="863.58" stroke="#848484" stroke-width="1.25"/>
<line x1="1110.26" y1="854.06" x2="1110.26" y2="876.54" stroke="#848484" stroke-width="1.25"/>
<line x1="1101.96" y1="854.06" x2="1118.56" y2="854.06" stroke="#848484" stroke-width="1.25"/>
<line x1="1101.96" y1="876.54" x2="1118.56" y2="876.54" stroke="#848484" stroke-width="1.25"/>
<circle cx="857.92" cy="837.40" r="2.60" fill="#686868"/>
<circle cx="857.92" cy="860.15" r="2.60" fill="#686868"/>
<circle cx="857.92" cy="865.44" r="2.60" fill="#686868"/>
<circle cx="853.69" cy="872.58" r="2.60" fill="#686868"/>
<circle cx="862.42" cy="871.25" r="2.60" fill="#686868"/>
<circle cx="857.92" cy="877.87" r="2.60" fill="#686868"/>
<circle cx="857.92" cy="902.20" r="2.60" fill="#686868"/>
<circle cx="908.44" cy="796.93" r="2.60" fill="#686868"/>
<circle cx="908.44" cy="810.95" r="2.60" fill="#686868"/>
<circle cx="908.44" cy="819.41" r="2.60" fill="#686868"/>
<circle cx="908.44" cy="830.78" r="2.60" fill="#686868"/>
<circle cx="903.95" cy="854.33" r="2.60" fill="#686868"/>
<circle cx="913.20" cy="851.42" r="2.60" fill="#686868"/>
<circle cx="913.20" cy="858.29" r="2.60" fill="#686868"/>
<circle cx="908.44" cy="874.43" r="2.60" fill="#686868"/>
<circle cx="958.96" cy="835.02" r="2.60" fill="#686868"/>
<circle cx="958.96" cy="840.84" r="2.60" fill="#686868"/>
<circle cx="958.96" cy="847.71" r="2.60" fill="#686868"/>
<circle cx="958.96" cy="866.49" r="2.60" fill="#686868"/>
<circle cx="958.96" cy="871.25" r="2.60" fill="#686868"/>
<circle cx="958.96" cy="881.83" r="2.60" fill="#686868"/>
<circle cx="958.96" cy="888.71" r="2.60" fill="#686868"/>
<circle cx="958.96" cy="895.06" r="2.60" fill="#686868"/>
<circle cx="958.96" cy="928.65" r="2.60" fill="#686868"/>
<circle cx="1009.48" cy="798.52" r="2.60" fill="#686868"/>
<circle cx="1009.48" cy="836.08" r="2.60" fill="#686868"/>
<circle cx="1009.48" cy="856.44" r="2.60" fill="#686868"/>
<circle cx="1009.48" cy="869.93" r="2.60" fill="#686868"/>
<circle cx="1009.48" cy="883.42" r="2.60" fill="#686868"/>
<circle cx="1005.25" cy="901.67" r="2.60" fill="#686868"/>
<circle cx="1013.98" cy="899.56" r="2.60" fill="#686868"/>
<circle cx="1009.48" cy="925.74" r="2.60" fill="#686868"/>
<circle cx="1009.48" cy="935.53" r="2.60" fill="#686868"/>
<circle cx="1059.74" cy="819.41" r="2.60" fill="#686868"/>
<circle cx="1059.74" cy="825.23" r="2.60" fill="#686868"/>
<circle cx="1059.74" cy="830.78" r="2.60" fill="#686868"/>
<circle cx="1064.24" cy="855.38" r="2.60" fill="#686868"/>
<circle cx="1055.51" cy="858.82" r="2.60" fill="#686868"/>
<circle cx="1064.24" cy="862.53" r="2.60" fill="#686868"/>
<circle cx="1059.74" cy="878.40" r="2.60" fill="#686868"/>
<circle cx="1055.51" cy="885.01" r="2.60" fill="#686868"/>
<circle cx="1064.24" cy="883.16" r="2.60" fill="#686868"/>
<circle cx="1110.26" cy="820.73" r="2.60" fill="#686868"/>
<circle cx="1110.26" cy="830.26" r="2.60" fill="#686868"/>
<circle cx="1110.26" cy="848.24" r="2.60" fill="#686868"/>
<circle cx="1110.26" cy="862.00" r="2.60" fill="#686868"/>
<circle cx="1110.26" cy="870.20" r="2.60" fill="#686868"/>
<circle cx="1110.26" cy="880.78" r="2.60" fill="#686868"/>
<circle cx="1110.26" cy="900.61" r="2.60" fill="#686868"/>
<circle cx="1110.26" cy="910.93" r="2.60" fill="#686868"/>
<line x1="824.20" y1="778.10" x2="824.20" y2="1004.70" stroke="#000" stroke-width="2.00"/>
<line x1="815.30" y1="1003.70" x2="1145.60" y2="1003.70" stroke="#000" stroke-width="2.00"/>
<line x1="815.30" y1="780.10" x2="824.20" y2="780.10" stroke="#000" stroke-width="2.00"/>
<text x="811.00" y="786.18" font-size="16.00" text-anchor="end" font-weight="700" fill="#000">100</text>
<line x1="815.30" y1="824.80" x2="824.20" y2="824.80" stroke="#000" stroke-width="2.00"/>
<text x="811.00" y="830.88" font-size="16.00" text-anchor="end" font-weight="700" fill="#000">80</text>
<line x1="815.30" y1="869.50" x2="824.20" y2="869.50" stroke="#000" stroke-width="2.00"/>
<text x="811.00" y="875.58" font-size="16.00" text-anchor="end" font-weight="700" fill="#000">60</text>
<line x1="815.30" y1="914.30" x2="824.20" y2="914.30" stroke="#000" stroke-width="2.00"/>
<text x="811.00" y="920.38" font-size="16.00" text-anchor="end" font-weight="700" fill="#000">40</text>
<line x1="815.30" y1="959.00" x2="824.20" y2="959.00" stroke="#000" stroke-width="2.00"/>
<text x="811.00" y="965.08" font-size="16.00" text-anchor="end" font-weight="700" fill="#000">20</text>
<line x1="815.30" y1="1003.70" x2="824.20" y2="1003.70" stroke="#000" stroke-width="2.00"/>
<text x="811.00" y="1009.78" font-size="16.00" text-anchor="end" font-weight="700" fill="#000">0</text>
<text transform="translate(768.20 887.90) rotate(-90)" font-size="17.20" text-anchor="middle" font-weight="700" fill="#000">Sucrose preference (%)</text>
<line x1="862.30" y1="755.20" x2="905.30" y2="755.20" stroke="#000" stroke-width="1.50"/>
<line x1="962.90" y1="755.20" x2="1006.20" y2="755.20" stroke="#000" stroke-width="1.50"/>
<line x1="1062.30" y1="755.20" x2="1106.00" y2="755.20" stroke="#000" stroke-width="1.50"/>
<text x="883.30" y="749.00" font-size="17.00" text-anchor="middle" fill="#000">**</text>
<text x="984.10" y="748.80" font-size="13.50" text-anchor="middle" fill="#333">0.76</text>
<text x="1084.00" y="748.80" font-size="13.50" text-anchor="middle" fill="#333">0.48</text>
<text x="786.00" y="1032.00" font-size="17.00" text-anchor="start" fill="#000">CRS</text>
<text x="769.50" y="1063.00" font-size="17.00" text-anchor="start" fill="#000">ketamine</text>
<text x="859.40" y="1032.50" font-size="17.00" text-anchor="middle" fill="#000">+</text>
<text x="859.40" y="1062.50" font-size="17.00" text-anchor="middle" fill="#000">-</text>
<text x="909.70" y="1032.50" font-size="17.00" text-anchor="middle" fill="#000">+</text>
<text x="909.70" y="1062.50" font-size="17.00" text-anchor="middle" fill="#000">+</text>
<text x="960.30" y="1032.50" font-size="17.00" text-anchor="middle" fill="#000">+</text>
<text x="960.30" y="1062.50" font-size="17.00" text-anchor="middle" fill="#000">-</text>
<text x="1010.60" y="1032.50" font-size="17.00" text-anchor="middle" fill="#000">+</text>
<text x="1010.60" y="1062.50" font-size="17.00" text-anchor="middle" fill="#000">+</text>
<text x="1061.20" y="1032.50" font-size="17.00" text-anchor="middle" fill="#000">+</text>
<text x="1061.20" y="1062.50" font-size="17.00" text-anchor="middle" fill="#000">-</text>
<text x="1111.50" y="1032.50" font-size="17.00" text-anchor="middle" fill="#000">+</text>
<text x="1111.50" y="1062.50" font-size="17.00" text-anchor="middle" fill="#000">+</text>
<line x1="851.00" y1="1078.90" x2="915.20" y2="1078.90" stroke="#000" stroke-width="1.50"/>
<line x1="954.10" y1="1078.90" x2="1019.00" y2="1078.90" stroke="#000" stroke-width="1.50"/>
<line x1="1056.40" y1="1078.90" x2="1121.70" y2="1078.90" stroke="#000" stroke-width="1.50"/>
<text x="884.00" y="1101.60" font-size="17.00" text-anchor="middle" fill="#000">ctrl sgRNA</text>
<text x="986.00" y="1101.60" font-size="17.00" text-anchor="middle" fill="#000">A1 sgRNA</text>
<text x="1089.80" y="1101.60" font-size="17.00" text-anchor="middle" fill="#000">A2A sgRNA</text></g>
</svg>
</body></html>
